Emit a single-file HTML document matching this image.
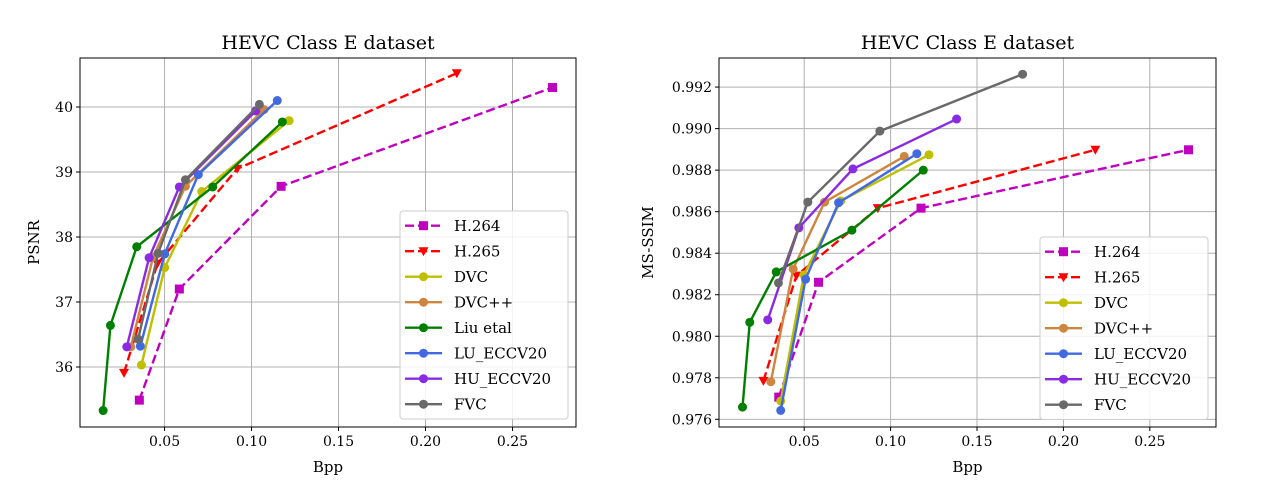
<!DOCTYPE html>
<html><head><meta charset="utf-8"><style>
body{margin:0;background:#fff}
svg text{font-family:"DejaVu Serif","Liberation Serif",serif;fill:#000}
</style></head><body>
<svg id="c" width="1280" height="480" xmlns="http://www.w3.org/2000/svg"></svg>
<script>
const seriesNames=["H.264","H.265","DVC","DVC++","Liu etal","LU_ECCV20","HU_ECCV20","FVC"];
const colors=["#bf00bf","#ff0000","#bfbf00","#cd853f","#008000","#4169e1","#8a2be2","#696969"];
const psnrX=[[0.0355,0.0585,0.117,0.273],[0.0267,0.0459,0.0918,0.218],[0.0367,0.0501,0.0714,0.1216],[0.0306,0.0434,0.062,0.1072],[0.0147,0.0189,0.034,0.0777,0.1177],[0.0361,0.0501,0.0694,0.1148],[0.0283,0.0411,0.0585,0.1024],[0.0348,0.0463,0.062,0.1045]];
const psnrY=[[35.49,37.2,38.78,40.3],[35.91,37.59,39.05,40.52],[36.03,37.53,38.7,39.79],[36.31,37.69,38.78,39.96],[35.33,36.64,37.85,38.77,39.77],[36.32,37.74,38.96,40.1],[36.31,37.68,38.77,39.94],[36.43,37.75,38.88,40.04]];
const ssimX=[[0.0353,0.0583,0.1176,0.2724],[0.0264,0.0455,0.0926,0.2185],[0.0364,0.0498,0.0712,0.1222],[0.0307,0.0436,0.0618,0.1079],[0.0143,0.0185,0.0338,0.0776,0.1189],[0.0364,0.0508,0.0699,0.1152],[0.0289,0.0469,0.0782,0.1382],[0.0351,0.0521,0.0938,0.1764]];
const ssimY=[[0.97707,0.9826,0.98617,0.98898],[0.97785,0.98292,0.98617,0.98898],[0.97688,0.98295,0.98652,0.98874],[0.97781,0.98324,0.98646,0.98866],[0.97659,0.98067,0.9831,0.98511,0.988],[0.97643,0.98275,0.98643,0.98879],[0.98079,0.98522,0.98806,0.99046],[0.98257,0.98646,0.98988,0.99262]];
const psnrLegend=[0,1,2,3,4,5,6,7];
const ssimLegend=[0,1,2,3,5,6,7];
const xTicks=[0.05,0.10,0.15,0.20,0.25];
const xTickLabels=["0.05","0.10","0.15","0.20","0.25"];
const psnrTicks=[36,37,38,39,40];
const ssimTicks=[0.976,0.978,0.980,0.982,0.984,0.986,0.988,0.990,0.992];

const NS="http://www.w3.org/2000/svg";
const svg=document.getElementById('c');
const FF='"DejaVu Serif","Liberation Serif",serif';
function mk(tag,attrs,parent){const e=document.createElementNS(NS,tag);for(const k in attrs)e.setAttribute(k,attrs[k]);if(tag==='text')e.setAttribute('font-family',FF);(parent||svg).appendChild(e);return e;}

function chart(o){
  const g=mk('g',{});
  
  
  const sx=v=>o.L+(v-o.x0)/(o.x1-o.x0)*(o.R-o.L);
  const sy=v=>o.B-(v-o.y0)/(o.y1-o.y0)*(o.B-o.T);
  xTicks.forEach((t,i)=>{const x=sx(t);
    const l=mk('line',{x1:x,x2:x,y1:o.T,y2:o.B,stroke:'#b0b0b0','stroke-width':1},g);
    
    mk('line',{x1:x,x2:x,y1:o.B,y2:o.B+4,stroke:'#000'},g);
    const tx=mk('text',{x:x,y:o.B+19,'text-anchor':'middle','font-size':14},g);tx.textContent=xTickLabels[i];
    
  });
  o.yt.forEach(t=>{const y=sy(t);
    const l=mk('line',{x1:o.L,x2:o.R,y1:y,y2:y,stroke:'#b0b0b0','stroke-width':1},g);
    
    mk('line',{x1:o.L-4,x2:o.L,y1:y,y2:y,stroke:'#000'},g);
    const tx=mk('text',{x:o.L-7,y:y+5,'text-anchor':'end','font-size':14},g);tx.textContent=o.yfmt(t);
    
  });
  o.X.forEach((xs,s)=>{
    const ys=o.Y[s];const c=colors[s];
    const sg=mk('g',{},g);
    
    
    const pts=xs.map((x,i)=>sx(x)+','+sy(ys[i])).join(' ');
    const a={points:pts,fill:'none',stroke:c,'stroke-width':2.4};
    if(s<2)a['stroke-dasharray']='9,4';
    mk('polyline',a,sg);
    xs.forEach((x,i)=>marker(sg,s,sx(x),sy(ys[i])));
  });
  mk('rect',{x:o.L,y:o.T,width:o.R-o.L,height:o.B-o.T,fill:'none',stroke:'#000','stroke-width':1},g);
  const t=mk('text',{x:(o.L+o.R)/2,y:49,'text-anchor':'middle','font-size':19},g);t.textContent='HEVC Class E dataset';
  
  const xl=mk('text',{x:(o.L+o.R)/2,y:472,'text-anchor':'middle','font-size':15},g);xl.textContent='Bpp';
  
  const yl=mk('text',{x:0,y:0,'text-anchor':'middle','font-size':15,transform:`translate(${o.ylx},${(o.T+o.B)/2}) rotate(-90)`},g);yl.textContent=o.ylabel;
  
  const lg=mk('g',{},g);
  
  const n=o.leg.length;
  mk('rect',{x:o.lgx,y:o.lgy,width:168,height:n*25.5+4,rx:3,fill:'#fff','fill-opacity':0.85,stroke:'#ccc'},lg);
  o.leg.forEach((s,k)=>{const y=o.lgy+14.7+k*25.5;
    const e=mk('g',{},lg);
    
    const a={x1:o.lgx+5,x2:o.lgx+42,y1:y,y2:y,stroke:colors[s],'stroke-width':2.4};
    if(s<2)a['stroke-dasharray']='9,4';
    mk('line',a,e);marker(e,s,o.lgx+23.5,y);
    const tx=mk('text',{x:o.lgx+54,y:y+5.5,'font-size':15},e);tx.textContent=seriesNames[s];
  });
}
function marker(p,s,x,y){
  const c=colors[s];
  if(s===0)mk('rect',{x:x-4.5,y:y-4.5,width:9,height:9,fill:c},p);
  else if(s===1)mk('polygon',{points:`${x-5},${y-4} ${x+5},${y-4} ${x},${y+5}`,fill:c},p);
  else mk('circle',{cx:x,cy:y,r:4.5,fill:c},p);
}
chart({name:'psnr-chart',L:80,R:576,T:58,B:427,x0:0.0014,x1:0.2865,y0:35.077,y1:40.754,yt:psnrTicks,yfmt:t=>String(t),X:psnrX,Y:psnrY,ylabel:'PSNR',ylx:39,lgx:400,lgy:211,leg:psnrLegend});
chart({name:'ms-ssim-chart',L:719,R:1216,T:58,B:427,x0:0.0007,x1:0.2883,y0:0.97563,y1:0.9934,yt:ssimTicks,yfmt:t=>t.toFixed(3),X:ssimX,Y:ssimY,ylabel:'MS-SSIM',ylx:653,lgx:1040,lgy:237,leg:ssimLegend});
</script>
</body></html>
